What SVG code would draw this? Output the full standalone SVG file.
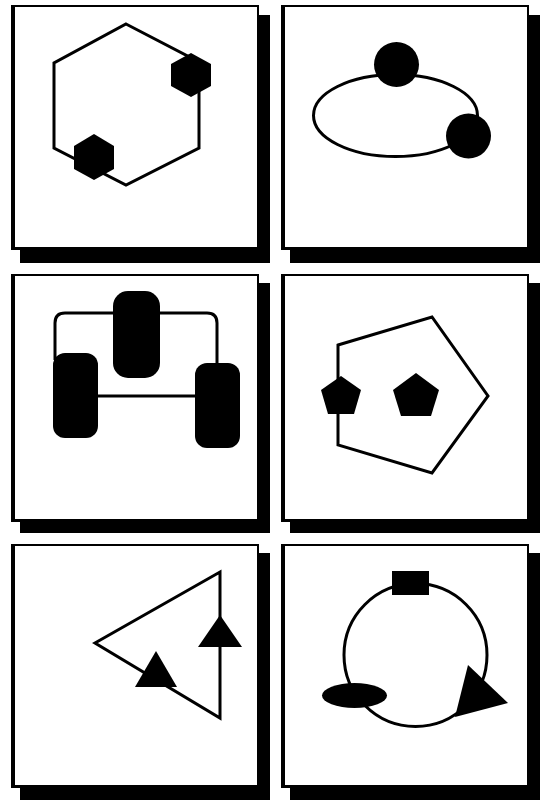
<svg xmlns="http://www.w3.org/2000/svg" width="541" height="802" viewBox="0 0 541 802">
<style>
.sh{fill:#000}
.fr{fill:#000}
.in{fill:#fff}
.ln{fill:none;stroke:#000;stroke-width:3;stroke-linejoin:miter}
.nd{fill:#000;stroke:none}
</style>
<rect width="541" height="802" fill="#fff"/>
<!-- Panel 1 -->
<g id="panel1">
<rect class="sh" x="20" y="15" width="250" height="248"/>
<rect class="fr" x="11" y="5" width="248" height="245"/>
<rect class="in" x="15" y="7" width="242" height="240"/>
<g id="p1-connectors">
<polygon class="ln" points="126,24 199,62 199,148 126,185 54,148 54,63"/>
</g>
<g id="p1-node-a"><polygon class="nd" points="191,53 211,64 211,86 191,97 171,86 171,64"/></g>
<g id="p1-node-b"><polygon class="nd" points="94,134 114,146 114,169 94,180 74,169 74,146"/></g>
</g>
<!-- Panel 2 -->
<g id="panel2">
<rect class="sh" x="290" y="15" width="250" height="248"/>
<rect class="fr" x="281" y="5" width="248" height="245"/>
<rect class="in" x="285" y="7" width="242" height="240"/>
<g id="p2-connectors">
<ellipse class="ln" cx="395.5" cy="115.5" rx="82" ry="41"/>
</g>
<g id="p2-node-a"><circle class="nd" cx="396.5" cy="64.5" r="22.5"/></g>
<g id="p2-node-b"><circle class="nd" cx="468.5" cy="136" r="22.5"/></g>
</g>
<!-- Panel 3 -->
<g id="panel3">
<rect class="sh" x="20" y="283" width="250" height="250"/>
<rect class="fr" x="11" y="274" width="248" height="248"/>
<rect class="in" x="15" y="276" width="242" height="243"/>
<g id="p3-connectors">
<path class="ln" d="M55,360 V323 Q55,313 65,313 H207 Q217,313 217,323 V370"/>
<line class="ln" x1="90" y1="396" x2="205" y2="396"/>
</g>
<g id="p3-node-a"><rect class="nd" x="113" y="291" width="47" height="87" rx="15" ry="15"/></g>
<g id="p3-node-b"><rect class="nd" x="53" y="353" width="45" height="85" rx="12" ry="12"/></g>
<g id="p3-node-c"><rect class="nd" x="195" y="363" width="45" height="85" rx="12" ry="12"/></g>
</g>
<!-- Panel 4 -->
<g id="panel4">
<rect class="sh" x="290" y="283" width="250" height="250"/>
<rect class="fr" x="281" y="274" width="248" height="248"/>
<rect class="in" x="285" y="276" width="242" height="243"/>
<g id="p4-connectors">
<polygon class="ln" points="338,345 432,317 488,396 432,473 338,445"/>
</g>
<g id="p4-node-a"><polygon class="nd" stroke="#000" stroke-width="3" stroke-linejoin="round" points="341,376 361,390 354,414 328,414 321,390"/></g>
<g id="p4-node-b"><polygon class="nd" points="416,373 439,390 431,416 401,416 393,390"/></g>
</g>
<!-- Panel 5 -->
<g id="panel5">
<rect class="sh" x="20" y="553" width="250" height="247"/>
<rect class="fr" x="11" y="544" width="248" height="244"/>
<rect class="in" x="15" y="546" width="242" height="239"/>
<g id="p5-connectors">
<polygon class="ln" points="220,572 220,718 95,643"/>
</g>
<g id="p5-node-a"><polygon class="nd" points="220,615 242,647 198,647"/></g>
<g id="p5-node-b"><polygon class="nd" points="156,651 177,687 135,687"/></g>
</g>
<!-- Panel 6 -->
<g id="panel6">
<rect class="sh" x="290" y="553" width="250" height="247"/>
<rect class="fr" x="281" y="544" width="248" height="244"/>
<rect class="in" x="285" y="546" width="242" height="239"/>
<g id="p6-connectors">
<circle class="ln" cx="415.5" cy="655" r="71.5"/>
</g>
<g id="p6-node-a"><rect class="nd" x="392" y="571" width="37" height="24"/></g>
<g id="p6-node-b"><ellipse class="nd" cx="354.5" cy="695.5" rx="32.5" ry="12.5"/></g>
<g id="p6-node-c"><polygon class="nd" points="468,665 508,703 455,717"/></g>
</g>
</svg>
